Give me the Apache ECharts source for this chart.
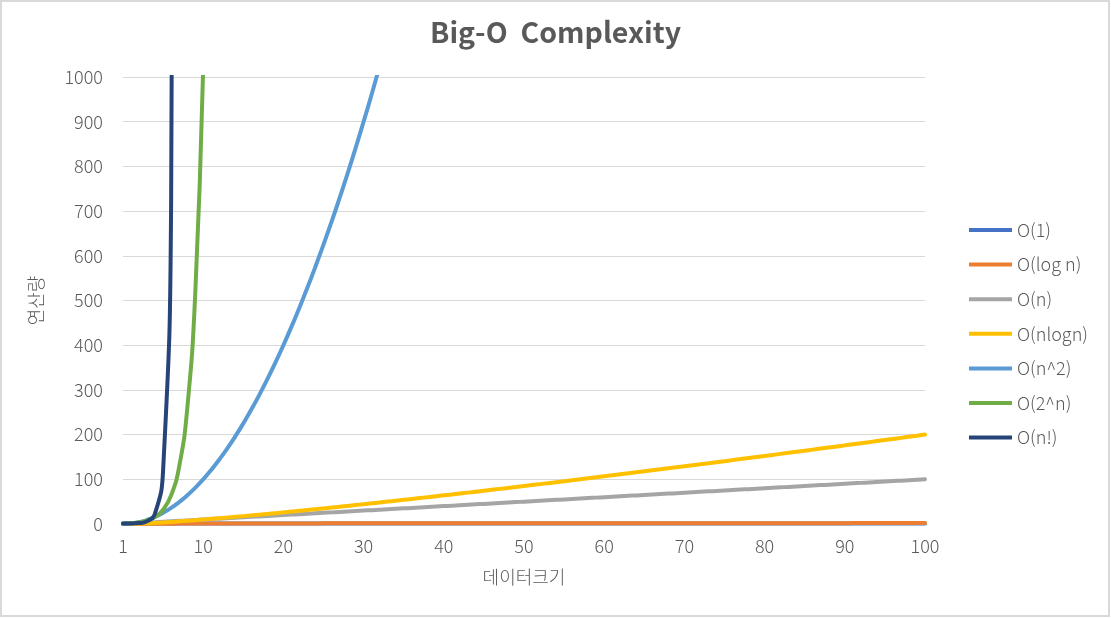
<!DOCTYPE html>
<html>
<head>
<meta charset="utf-8">
<script src="https://cdn.jsdelivr.net/npm/echarts@6/dist/echarts.min.js"></script>
<style>
html,body{margin:0;padding:0;background:#fff;}
#c{width:1111px;height:618px;}
</style>
</head>
<body>
<div id="c"></div>
<script>
// Data size n (category positions 0..100)
const nValues = [0,1,2,3,4,5,6,7,8,9,10,11,12,13,14,15,16,17,18,19,20,21,22,23,24,25,26,27,28,29,30,31,32,33,34,35,36,37,38,39,40,41,42,43,44,45,46,47,48,49,50,51,52,53,54,55,56,57,58,59,60,61,62,63,64,65,66,67,68,69,70,71,72,73,74,75,76,77,78,79,80,81,82,83,84,85,86,87,88,89,90,91,92,93,94,95,96,97,98,99,100];
const xTickLabels = ['1','10','20','30','40','50','60','70','80','90','100'];
const yTickLabels = ['0','100','200','300','400','500','600','700','800','900','1000'];
const seriesNames = ['O(1)','O(log n)','O(n)','O(nlogn)','O(n^2)','O(2^n)','O(n!)'];

const o1 = [1,1,1,1,1,1,1,1,1,1,1,1,1,1,1,1,1,1,1,1,1,1,1,1,1,1,1,1,1,1,1,1,1,1,1,1,1,1,1,1,1,1,1,1,1,1,1,1,1,1,1,1,1,1,1,1,1,1,1,1,1,1,1,1,1,1,1,1,1,1,1,1,1,1,1,1,1,1,1,1,1,1,1,1,1,1,1,1,1,1,1,1,1,1,1,1,1,1,1,1,1];
const oLogN = [0,0,0.30,0.48,0.60,0.70,0.78,0.85,0.90,0.95,1,1.04,1.08,1.11,1.15,1.18,1.20,1.23,1.26,1.28,1.30,1.32,1.34,1.36,1.38,1.40,1.41,1.43,1.45,1.46,1.48,1.49,1.51,1.52,1.53,1.54,1.56,1.57,1.58,1.59,1.60,1.61,1.62,1.63,1.64,1.65,1.66,1.67,1.68,1.69,1.70,1.71,1.72,1.72,1.73,1.74,1.75,1.76,1.76,1.77,1.78,1.79,1.79,1.80,1.81,1.81,1.82,1.83,1.83,1.84,1.85,1.85,1.86,1.86,1.87,1.88,1.88,1.89,1.89,1.90,1.90,1.91,1.91,1.92,1.92,1.93,1.93,1.94,1.94,1.95,1.95,1.96,1.96,1.97,1.97,1.98,1.98,1.99,1.99,2.00,2];
const oN = [0,1,2,3,4,5,6,7,8,9,10,11,12,13,14,15,16,17,18,19,20,21,22,23,24,25,26,27,28,29,30,31,32,33,34,35,36,37,38,39,40,41,42,43,44,45,46,47,48,49,50,51,52,53,54,55,56,57,58,59,60,61,62,63,64,65,66,67,68,69,70,71,72,73,74,75,76,77,78,79,80,81,82,83,84,85,86,87,88,89,90,91,92,93,94,95,96,97,98,99,100];
const oNLogN = [0,0,0.6,1.4,2.4,3.5,4.7,5.9,7.2,8.6,10,11.5,12.9,14.5,16.0,17.6,19.3,20.9,22.6,24.3,26.0,27.8,29.5,31.3,33.1,34.9,36.8,38.6,40.5,42.4,44.3,46.2,48.2,50.1,52.1,54.0,56.0,58.0,60.0,62.1,64.1,66.1,68.2,70.2,72.3,74.4,76.5,78.6,80.7,82.8,84.9,87.1,89.2,91.4,93.5,95.7,97.9,100.1,102.3,104.5,106.7,108.9,111.1,113.4,115.6,117.8,120.1,122.3,124.6,126.9,129.2,131.4,133.7,136.0,138.3,140.6,142.9,145.3,147.6,149.9,152.2,154.6,156.9,159.3,161.6,164.0,166.4,168.7,171.1,173.5,175.9,178.3,180.7,183.1,185.5,187.9,190.3,192.7,195.1,197.6,200];
const oN2 = [0,1,4,9,16,25,36,49,64,81,100,121,144,169,196,225,256,289,324,361,400,441,484,529,576,625,676,729,784,841,900,961,1024];
const o2N = [1,2,4,8,16,32,64,128,256,512,1024];
const oFact = [1,1,2,6,24,120,720,5040];

const colors = ['#4472C4','#ED7D31','#A5A5A5','#FFC000','#5B9BD5','#70AD47','#264478'];
const seriesData = [o1,oLogN,oN,oNLogN,oN2,o2N,oFact];

const FONT = '"Noto Sans CJK KR", "Noto Sans", sans-serif';
const chart = echarts.init(document.getElementById('c'), null, {renderer:'canvas'});
chart.setOption({
  animation:false,
  backgroundColor:'#fff',
  title:{
    text:'Big-O  Complexity',
    left:'center', top:13,
    textStyle:{fontFamily:FONT, fontSize:28.5, fontWeight:'bold', color:'#595959'}
  },
  graphic:[{
    type:'rect', silent:true, z:-1,
    shape:{x:1,y:1,width:1108,height:615},
    style:{fill:'none', stroke:'#d9d9d9', lineWidth:2}
  }],
  legend:{
    orient:'vertical',
    left:964, top:215,
    icon:'rect', itemWidth:43, itemHeight:4, itemGap:14.6,
    textStyle:{fontFamily:FONT, fontSize:18, fontWeight:300, color:'#595959', lineHeight:20},
    data:seriesNames
  },
  grid:{left:123, right:186, top:77, bottom:94, containLabel:false},
  xAxis:{
    type:'category',
    data:nValues,
    boundaryGap:false,
    name:'데이터크기', nameLocation:'middle', nameGap:44,
    nameTextStyle:{fontFamily:FONT, fontSize:18, fontWeight:300, color:'#595959'},
    axisLine:{show:true, lineStyle:{color:'#d9d9d9', width:1}},
    axisTick:{show:false},
    axisLabel:{
      interval:function(i){return i%10===0;},
      formatter:function(v,i){return xTickLabels[i/10];},
      margin:13,
      fontFamily:FONT, fontSize:18, fontWeight:300, color:'#595959'
    },
    splitLine:{show:false}
  },
  yAxis:{
    type:'value', min:0, max:1000, interval:100,
    name:'연산량', nameLocation:'middle', nameGap:78, nameRotate:90,
    nameTextStyle:{fontFamily:FONT, fontSize:18, fontWeight:300, color:'#595959'},
    axisLine:{show:false}, axisTick:{show:false},
    axisLabel:{
      margin:20,
      formatter:function(v){return yTickLabels[Math.round(v/100)];},
      fontFamily:FONT, fontSize:18, fontWeight:300, color:'#595959'
    },
    splitLine:{lineStyle:{color:'#d9d9d9', width:1}}
  },
  series: seriesNames.map(function(name,k){
    return {
      name:name, type:'line', data:seriesData[k],
      symbol:'none', clip:true, smooth:0.5,
      lineStyle:{color:colors[k], width:4, cap:'round', join:'round'},
      itemStyle:{color:colors[k]}
    };
  })
});
</script>
</body>
</html>
